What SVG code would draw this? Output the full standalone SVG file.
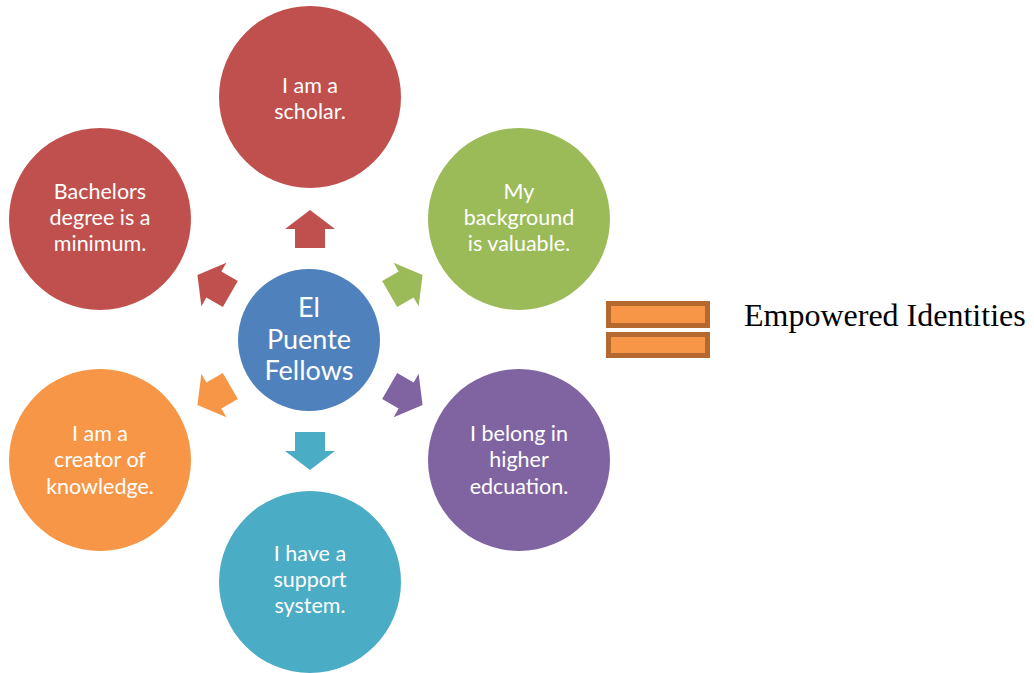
<svg xmlns="http://www.w3.org/2000/svg" width="1034" height="673" viewBox="0 0 1034 673">
<style>
.t{font-family:Lato,"Open Sans","Liberation Sans",sans-serif;font-size:21.5px;fill:#fff;text-anchor:middle}
.c{font-family:Lato,"Open Sans","Liberation Sans",sans-serif;font-size:27px;fill:#fff;text-anchor:middle}
.eq{fill:#F79646;stroke:#B5692F;stroke-width:5}
</style>
<defs>
<path id="arr" d="M-15,-92 L-15,-111 L-25,-111 L0,-130 L25,-111 L15,-111 L15,-92 Z"/>
</defs>
<rect width="1034" height="673" fill="#fff"/>
<g id="connectors" transform="translate(310,340)">
<use href="#arr" fill="#C0504D"/>
<use href="#arr" fill="#9BBB59" transform="rotate(60)"/>
<use href="#arr" fill="#8064A2" transform="rotate(120)"/>
<use href="#arr" fill="#4BACC6" transform="rotate(180)"/>
<use href="#arr" fill="#F79646" transform="rotate(240)"/>
<use href="#arr" fill="#C0504D" transform="rotate(300)"/>
</g>
<g id="center">
<circle cx="309" cy="340" r="71" fill="#4F81BD"/>
<text class="c" x="309" y="317">El</text>
<text class="c" x="309" y="349">Puente</text>
<text class="c" x="309" y="380">Fellows</text>
</g>
<g id="scholar">
<circle cx="310" cy="97" r="91" fill="#C0504D"/>
<text class="t" x="310" y="93">I am a</text>
<text class="t" x="310" y="119">scholar.</text>
</g>
<g id="background">
<circle cx="519" cy="219" r="91" fill="#9BBB59"/>
<text class="t" x="519" y="199">My</text>
<text class="t" x="519" y="225">background</text>
<text class="t" x="519" y="251">is valuable.</text>
</g>
<g id="belong">
<circle cx="519" cy="460" r="91" fill="#8064A2"/>
<text class="t" x="519" y="441">I belong in</text>
<text class="t" x="519" y="467">higher</text>
<text class="t" x="519" y="494">edcuation.</text>
</g>
<g id="support">
<circle cx="310" cy="582" r="91" fill="#4BACC6"/>
<text class="t" x="310" y="561">I have a</text>
<text class="t" x="310" y="587">support</text>
<text class="t" x="310" y="613">system.</text>
</g>
<g id="creator">
<circle cx="100" cy="460" r="91" fill="#F79646"/>
<text class="t" x="100" y="441">I am a</text>
<text class="t" x="100" y="467">creator of</text>
<text class="t" x="100" y="494">knowledge.</text>
</g>
<g id="bachelors">
<circle cx="100" cy="219" r="91" fill="#C0504D"/>
<text class="t" x="100" y="199">Bachelors</text>
<text class="t" x="100" y="225">degree is a</text>
<text class="t" x="100" y="251">minimum.</text>
</g>
<g id="equals">
<rect class="eq" x="608.5" y="303.5" width="99" height="22"/>
<rect class="eq" x="608.5" y="334.5" width="99" height="21"/>
</g>
<g id="label">
<text x="744" y="326" font-family="'Liberation Serif','Times New Roman',serif" font-size="32" fill="#000">Empowered Identities</text>
</g>
</svg>
